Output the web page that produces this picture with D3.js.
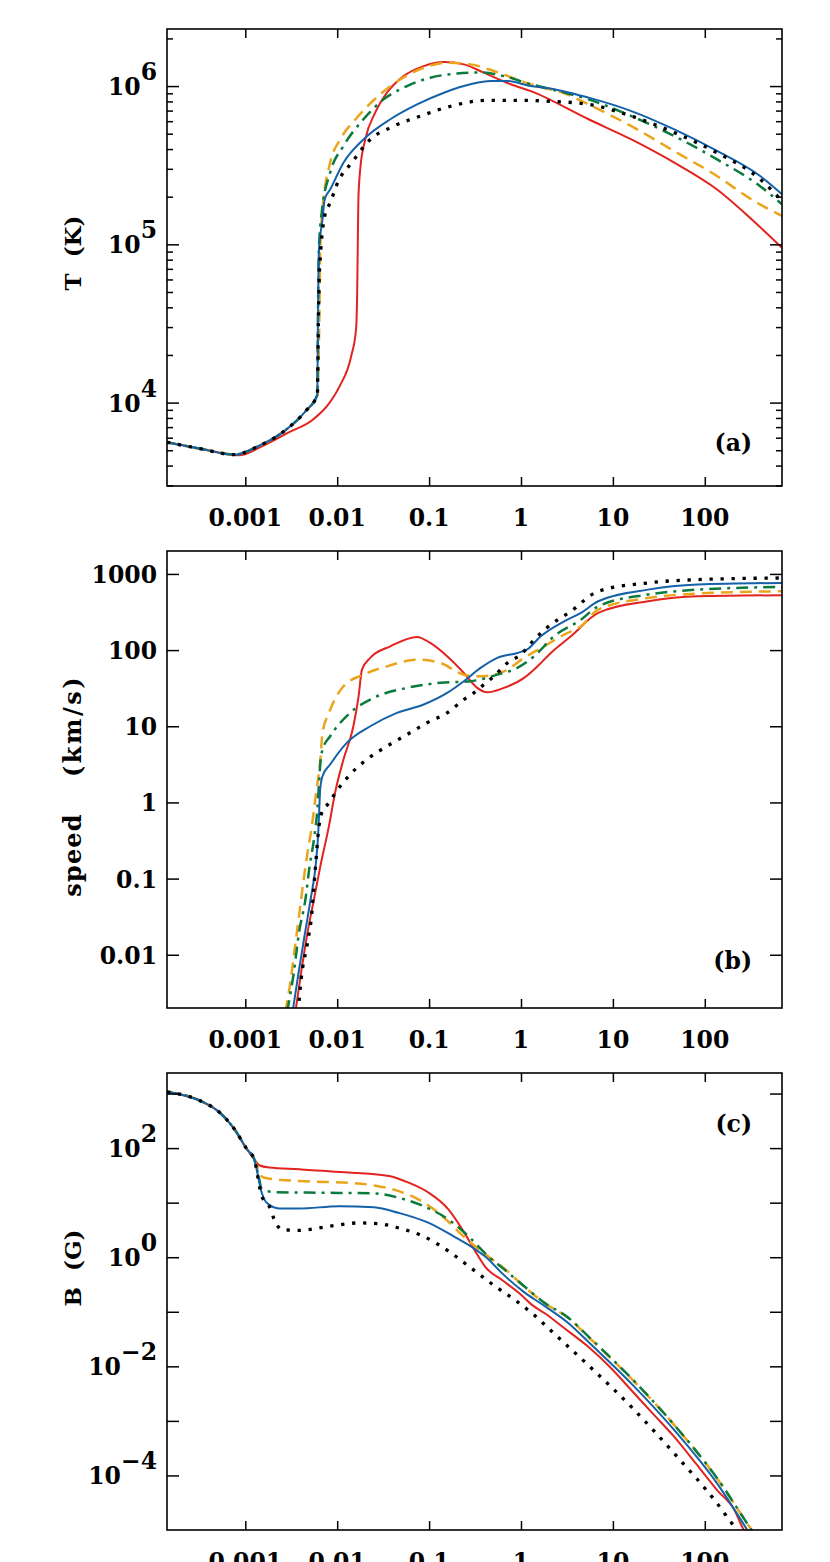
<!DOCTYPE html>
<html>
<head>
<meta charset="utf-8">
<script src="https://cdn.jsdelivr.net/npm/d3@7"></script>
<style>
  body { margin: 0; background: #fff; }
  svg text { font-family: "DejaVu Serif", serif; font-weight: bold; fill: #000; }
</style>
</head>
<body>
<div id="chart"></div>
<script>
// x axis: height, shared by all three panels
var xTicks = [0.001, 0.01, 0.1, 1, 10, 100];
var xTickLabels = ["0.001", "0.01", "0.1", "1", "10", "100"];

// panel (a): temperature (K)
var tempTicks = [1e4, 1e5, 1e6];
var tempTickLabels = [["10", "4"], ["10", "5"], ["10", "6"]];
var tempMinorTicks = [3e3, 4e3, 5e3, 6e3, 7e3, 8e3, 9e3, 2e4, 3e4, 4e4, 5e4, 6e4, 7e4, 8e4, 9e4,
  2e5, 3e5, 4e5, 5e5, 6e5, 7e5, 8e5, 9e5, 2e6];

var tempBlack = [[1.41e-4, 5610], [3.16e-4, 5130], [7.64e-4, 4690], [1.38e-3, 5300], [2.63e-3, 6580],
  [4.51e-3, 8810], [6.08e-3, 11200], [6.24e-3, 31600], [6.38e-3, 63100], [6.56e-3, 84300],
  [7.31e-3, 151000], [8.38e-3, 183000], [0.0103, 251000], [0.0144, 328000], [0.0229, 460000],
  [0.0378, 546000], [0.0804, 646000], [0.186, 755000], [0.43, 813000], [1.08, 813000],
  [1.85, 804000], [5.43, 766000], [15.9, 646000], [46.6, 508000], [136, 379000], [400, 258000], [692, 188000]];
var tempBlue = [[1.41e-4, 5610], [3.16e-4, 5130], [7.64e-4, 4690], [1.38e-3, 5300], [2.63e-3, 6580],
  [4.51e-3, 8810], [6.08e-3, 11200], [6.17e-3, 31600], [6.31e-3, 89100], [6.92e-3, 144000],
  [7.31e-3, 192000], [8.38e-3, 222000], [0.0117, 328000], [0.0193, 460000], [0.0378, 617000],
  [0.074, 766000], [0.145, 908000], [0.282, 1.026e6], [0.467, 1.076e6], [0.71, 1.076e6],
  [1.28, 1.0e6], [1.85, 977000], [5.43, 845000], [15.9, 695000], [46.6, 532000], [136, 389000],
  [400, 270000], [692, 207000]];
var tempGreen = [[1.41e-4, 5610], [3.16e-4, 5130], [7.64e-4, 4690], [1.38e-3, 5300], [2.63e-3, 6580],
  [4.51e-3, 8810], [6.08e-3, 11200], [6.17e-3, 31600], [6.31e-3, 89100], [6.78e-3, 158000],
  [8.38e-3, 284000], [0.0117, 418000], [0.0193, 617000], [0.032, 824000], [0.0575, 1.0e6],
  [0.103, 1.13e6], [0.202, 1.2e6], [0.363, 1.22e6], [0.652, 1.156e6], [1.28, 1.026e6],
  [2.51, 933000], [5.43, 824000], [15.9, 646000], [46.6, 483000], [136, 344000], [400, 233000], [692, 179000]];
var tempOrange = [[1.41e-4, 5610], [3.16e-4, 5130], [7.64e-4, 4690], [1.38e-3, 5300], [2.63e-3, 6580],
  [4.51e-3, 8810], [6.08e-3, 11200], [6.38e-3, 31600], [6.53e-3, 89100], [6.92e-3, 166000],
  [8.38e-3, 328000], [0.0108, 460000], [0.0164, 631000], [0.0294, 887000], [0.0486, 1.10e6],
  [0.0873, 1.306e6], [0.157, 1.406e6], [0.282, 1.371e6], [0.507, 1.245e6], [0.91, 1.10e6],
  [1.28, 1.026e6], [3.17, 887000], [5.43, 766000], [15.9, 558000], [46.6, 388000], [136, 270000],
  [323, 192000], [692, 151000]];
var tempRed = [[1.41e-4, 5610], [3.16e-4, 5130], [8.51e-4, 4650], [1.54e-3, 5320], [2.93e-3, 6460],
  [5.47e-3, 7830], [8.13e-3, 9860], [0.01064, 12700], [0.01422, 19700], [0.01603, 29000],
  [0.0165, 50100], [0.01675, 100000], [0.0170, 192000], [0.0178, 298000], [0.0202, 460000],
  [0.0259, 679000], [0.0348, 908000], [0.0528, 1.156e6], [0.0873, 1.337e6], [0.145, 1.419e6],
  [0.239, 1.371e6], [0.394, 1.216e6], [0.773, 1.026e6], [1.28, 929000], [5.43, 617000],
  [15.9, 460000], [46.6, 328000], [136, 222000], [323, 144000], [692, 95000]];

// panel (b): speed (km/s)
var speedTicks = [0.01, 0.1, 1, 10, 100, 1000];
var speedTickLabels = ["0.01", "0.1", "1", "10", "100", "1000"];

var speedBlack = [[3.76e-3, 0.00178], [4.05e-3, 0.00475], [4.75e-3, 0.0144], [5.3e-3, 0.0356],
  [5.58e-3, 0.0796], [5.89e-3, 0.178], [6.22e-3, 0.399], [6.78e-3, 0.729], [8.13e-3, 0.986],
  [9.55e-3, 1.33], [0.0138, 2.32], [0.021, 3.66], [0.0348, 5.47], [0.0575, 7.78], [0.0951, 11.1],
  [0.157, 15], [0.239, 22.4], [0.307, 27.4], [0.394, 35.2], [0.507, 45.3], [0.71, 67.8],
  [0.993, 87.1], [1.39, 137], [2.11, 216], [3.49, 323], [6.92, 592], [24.1, 762], [83.9, 843], [692, 885]];
var speedBlue = [[3.27e-3, 0.00178], [3.8e-3, 0.00581], [4.47e-3, 0.0195], [5.13e-3, 0.0532],
  [5.82e-3, 0.146], [6.22e-3, 0.399], [6.4e-3, 0.893], [6.53e-3, 1.48], [6.92e-3, 2.21],
  [8.38e-3, 3.15], [0.0127, 6.05], [0.0229, 10], [0.0447, 15], [0.0873, 19.3], [0.157, 27.4],
  [0.239, 39], [0.363, 58.3], [0.552, 79.1], [0.912, 91.8], [1.17, 102], [1.64, 152], [2.95, 239],
  [4.49, 308], [6.92, 438], [24.1, 622], [83.9, 724], [692, 762]];
var speedGreen = [[2.85e-3, 0.00178], [3.37e-3, 0.00581], [3.84e-3, 0.0195], [4.51e-3, 0.0532],
  [5.01e-3, 0.146], [5.58e-3, 0.326], [6.08e-3, 0.807], [6.35e-3, 1.81], [6.56e-3, 3.3],
  [6.92e-3, 4.94], [8.38e-3, 7.4], [0.0138, 15], [0.0249, 23.6], [0.0575, 31.9], [0.133, 37.2],
  [0.282, 39], [0.552, 47.6], [0.912, 58.3], [1.39, 83], [2.29, 152], [4.49, 251], [6.92, 376],
  [24.1, 536], [83.9, 622], [692, 675]];
var speedOrange = [[2.72e-3, 0.00178], [3.09e-3, 0.0043], [3.44e-3, 0.0117], [3.84e-3, 0.0322],
  [4.27e-3, 0.0881], [4.75e-3, 0.218], [5.3e-3, 0.488], [5.89e-3, 1.33], [6.56e-3, 3.66],
  [6.92e-3, 8.18], [8.13e-3, 15], [0.0117, 33.5], [0.0193, 47.6], [0.0348, 61.2], [0.074, 75],
  [0.133, 67.8], [0.239, 47.6], [0.363, 45.3], [0.652, 52.6], [1.08, 79.1], [1.78, 112],
  [2.95, 160], [4.49, 206], [6.92, 340], [24.1, 484], [83.9, 552], [692, 592]];
var speedRed = [[3.51e-3, 0.00178], [4.05e-3, 0.00581], [4.75e-3, 0.0195], [5.58e-3, 0.0532],
  [6.56e-3, 0.146], [8.13e-3, 0.488], [9.48e-3, 1.34], [0.0117, 3.66], [0.015, 10], [0.0171, 24.8],
  [0.0186, 55.5], [0.0229, 79.1], [0.0378, 112], [0.074, 149], [0.103, 124], [0.157, 83],
  [0.239, 50.1], [0.334, 31.9], [0.43, 27.9], [0.652, 31.9], [1.08, 43.2], [1.51, 61.2],
  [2.11, 91.8], [3.49, 152], [6.92, 308], [24.1, 438], [83.9, 509], [692, 525]];

// panel (c): magnetic field (G)
var bTicks = [1e-4, 1e-3, 1e-2, 1e-1, 1, 10, 100, 1000];
var bLabelTicks = [1e-4, 1e-2, 1, 100];
var bTickLabels = [["10", "\u22124"], ["10", "\u22122"], ["10", "0"], ["10", "2"]];

var bBlack = [[1.41e-4, 1072], [3.17e-4, 748], [5.22e-4, 455], [7.6e-4, 224], [1.04e-3, 95.9],
  [1.25e-3, 62.7], [1.51e-3, 13.2], [1.82e-3, 8.61], [2.07e-3, 4.89], [2.49e-3, 3.2], [3.85e-3, 3.1],
  [8.15e-3, 3.68], [0.0172, 4.25], [0.0284, 4.12], [0.0468, 3.43], [0.0873, 2.41], [0.163, 1.29],
  [0.282, 0.646], [0.501, 0.309], [0.873, 0.161], [1.34, 0.0918], [2.3, 0.0396], [5.43, 0.0104],
  [15.9, 0.0018], [46.6, 2.52e-4], [136, 3.08e-5], [210, 1.15e-5], [251, 7.94e-6]];
var bBlue = [[1.41e-4, 1072], [3.17e-4, 748], [5.22e-4, 455], [7.6e-4, 224], [1.04e-3, 95.9],
  [1.25e-3, 62.7], [1.51e-3, 15.2], [1.71e-3, 9.93], [2.34e-3, 7.8], [3.85e-3, 7.8], [0.0105, 8.61],
  [0.0251, 8.26], [0.0468, 6.49], [0.0991, 4.25], [0.185, 2.41], [0.304, 1.47], [0.417, 1.0],
  [0.632, 0.495], [1.08, 0.229], [1.66, 0.14], [3.17, 0.0647], [5.43, 0.0279], [15.9, 0.00482],
  [46.6, 6.75e-4], [136, 7.14e-5], [290, 1e-5], [316, 7.94e-6]];
var bGreen = [[1.41e-4, 1072], [3.17e-4, 748], [5.22e-4, 455], [7.6e-4, 224], [1.04e-3, 95.9],
  [1.25e-3, 62.7], [1.41e-3, 28.2], [1.51e-3, 17.5], [2.07e-3, 15.6], [7.19e-3, 15.2], [0.0251, 14.8],
  [0.0468, 12.3], [0.0873, 8.61], [0.163, 4.89], [0.269, 2.41], [0.443, 1.03], [0.632, 0.631],
  [1.21, 0.251], [1.85, 0.141], [3.17, 0.0813], [5.43, 0.0351], [15.9, 0.00603], [46.6, 8.41e-4],
  [136, 8.91e-5], [323, 1e-5], [355, 7.94e-6]];
var bOrange = [[1.41e-4, 1072], [3.17e-4, 748], [5.22e-4, 455], [7.6e-4, 224], [1.04e-3, 95.9],
  [1.25e-3, 62.7], [1.38e-3, 41.7], [1.48e-3, 31.6], [1.61e-3, 28.7], [3.85e-3, 24.9], [0.0134, 23.2],
  [0.0251, 20.7], [0.0468, 16.3], [0.0771, 11.4], [0.127, 6.49], [0.237, 2.41], [0.398, 1.17],
  [0.632, 0.656], [1.21, 0.245], [1.85, 0.14], [3.17, 0.0798], [5.43, 0.0344], [15.9, 0.00594],
  [46.6, 8.34e-4], [136, 8.81e-5], [323, 1e-5], [355, 7.94e-6]];
var bRed = [[1.41e-4, 1072], [3.17e-4, 748], [5.22e-4, 455], [7.6e-4, 224], [1.04e-3, 95.9],
  [1.25e-3, 62.7], [1.42e-3, 48.5], [1.82e-3, 44], [3.85e-3, 40.9], [0.0134, 35.6], [0.0365, 30.8],
  [0.0601, 23.2], [0.0991, 15.2], [0.163, 7.48], [0.237, 2.98], [0.315, 1.32], [0.411, 0.656],
  [0.632, 0.374], [0.973, 0.213], [1.34, 0.131], [1.85, 0.0918], [2.85, 0.0525], [5.43, 0.0226],
  [9.29, 0.00973], [15.9, 0.00364], [27.2, 0.00136], [46.6, 5.09e-4], [79.8, 1.66e-4], [136, 5.4e-5],
  [210, 2.32e-5], [266, 1e-5], [295, 7.94e-6]];

var width = 830, height = 1562;
var left = 167, right = 782, panelH = 457;
var fontSize = 23.5;

var svg = d3.select("#chart").append("svg")
  .attr("width", width)
  .attr("height", height);

var x = d3.scaleLog().domain([1.406e-4, 692]).range([left, right]);

var styles = {
  red:    { color: "#e2231f", width: 2,   dash: null },
  orange: { color: "#eba51c", width: 2.5, dash: "12,7" },
  green:  { color: "#0a7b3c", width: 2.5, dash: "12,6,3,6" },
  blue:   { color: "#1461a9", width: 2,   dash: null },
  black:  { color: "#000",    width: 3.3, dash: "3.3,7.7" }
};
var order = ["red", "orange", "green", "blue", "black"];

var panels = [
  { top: 29, domain: [2972, 2.294e6], letter: "(a)", letterY: 451,
    series: { red: tempRed, orange: tempOrange, green: tempGreen, blue: tempBlue, black: tempBlack },
    ticks: tempTicks, minor: tempMinorTicks, labelTicks: tempTicks, labels: tempTickLabels },
  { top: 551, domain: [0.002, 2000], letter: "(b)", letterY: 969,
    series: { red: speedRed, orange: speedOrange, green: speedGreen, blue: speedBlue, black: speedBlack },
    ticks: speedTicks, minor: [], labelTicks: speedTicks, labels: speedTickLabels },
  { top: 1073, domain: [1e-5, 2380], letter: "(c)", letterY: 1132,
    series: { red: bRed, orange: bOrange, green: bGreen, blue: bBlue, black: bBlack },
    ticks: bTicks, minor: [], labelTicks: bLabelTicks, labels: bTickLabels }
];

panels.forEach(function(p, i) {
  var bottom = p.top + panelH;
  var y = d3.scaleLog().domain(p.domain).range([bottom, p.top]);

  svg.append("clipPath").attr("id", "clip" + i)
    .append("rect")
    .attr("x", left).attr("y", p.top)
    .attr("width", right - left).attr("height", panelH);

  var line = d3.line()
    .x(function(d) { return x(d[0]); })
    .y(function(d) { return y(d[1]); })
    .curve(d3.curveMonotoneX);

  var g = svg.append("g").attr("clip-path", "url(#clip" + i + ")");
  order.forEach(function(name) {
    var s = styles[name];
    g.append("path")
      .datum(p.series[name])
      .attr("fill", "none")
      .attr("stroke", s.color)
      .attr("stroke-width", s.width)
      .attr("stroke-dasharray", s.dash)
      .attr("d", line);
  });

  // ticks, all pointing inward
  function axis(gen, tx, ty) {
    var a = svg.append("g")
      .attr("transform", "translate(" + tx + "," + ty + ")")
      .call(gen);
    a.select(".domain").remove();
    a.selectAll("line").attr("stroke-width", 1.5);
  }
  axis(d3.axisBottom(x).tickValues(xTicks).tickSize(-9).tickFormat(""), 0, bottom);
  axis(d3.axisTop(x).tickValues(xTicks).tickSize(-9).tickFormat(""), 0, p.top);
  axis(d3.axisLeft(y).tickValues(p.ticks).tickSize(-12).tickFormat(""), left, 0);
  axis(d3.axisRight(y).tickValues(p.ticks).tickSize(-12).tickFormat(""), right, 0);
  if (p.minor.length) {
    axis(d3.axisLeft(y).tickValues(p.minor).tickSize(-6).tickFormat(""), left, 0);
    axis(d3.axisRight(y).tickValues(p.minor).tickSize(-6).tickFormat(""), right, 0);
  }

  svg.append("rect")
    .attr("x", left).attr("y", p.top)
    .attr("width", right - left).attr("height", panelH)
    .attr("fill", "none")
    .attr("stroke", "#000")
    .attr("stroke-width", 1.6);

  // x tick labels
  svg.selectAll(".xlab" + i)
    .data(xTicks)
    .enter().append("text")
    .attr("class", "xlab" + i)
    .attr("x", function(d) { return x(d); })
    .attr("y", bottom + 40)
    .attr("text-anchor", "middle")
    .attr("font-size", fontSize)
    .text(function(d, j) { return xTickLabels[j]; });

  // y tick labels
  p.labelTicks.forEach(function(t, j) {
    var lab = p.labels[j];
    var txt = svg.append("text")
      .attr("x", 157)
      .attr("y", y(t) + 9)
      .attr("text-anchor", "end")
      .attr("font-size", fontSize);
    if (Array.isArray(lab)) {
      txt.append("tspan").text(lab[0]);
      txt.append("tspan").attr("dy", -15).text(lab[1]);
    } else {
      txt.text(lab);
    }
  });

  svg.append("text")
    .attr("x", 752)
    .attr("y", p.letterY)
    .attr("text-anchor", "end")
    .attr("font-size", fontSize)
    .text(p.letter);
});

// axis titles
function title(txt, cy, size, spacing) {
  svg.append("text")
    .attr("transform", "translate(81," + cy + ") rotate(-90)")
    .attr("text-anchor", "middle")
    .attr("font-size", size)
    .attr("letter-spacing", spacing)
    .style("white-space", "pre")
    .text(txt);
}
title("T  (K)", 253, 23, 0);
title("speed", 855, 24, 1.2);
title("(km/s)", 726, 24, 2.5);
title("B  (G)", 1268, 23, 0);
</script>
</body>
</html>
